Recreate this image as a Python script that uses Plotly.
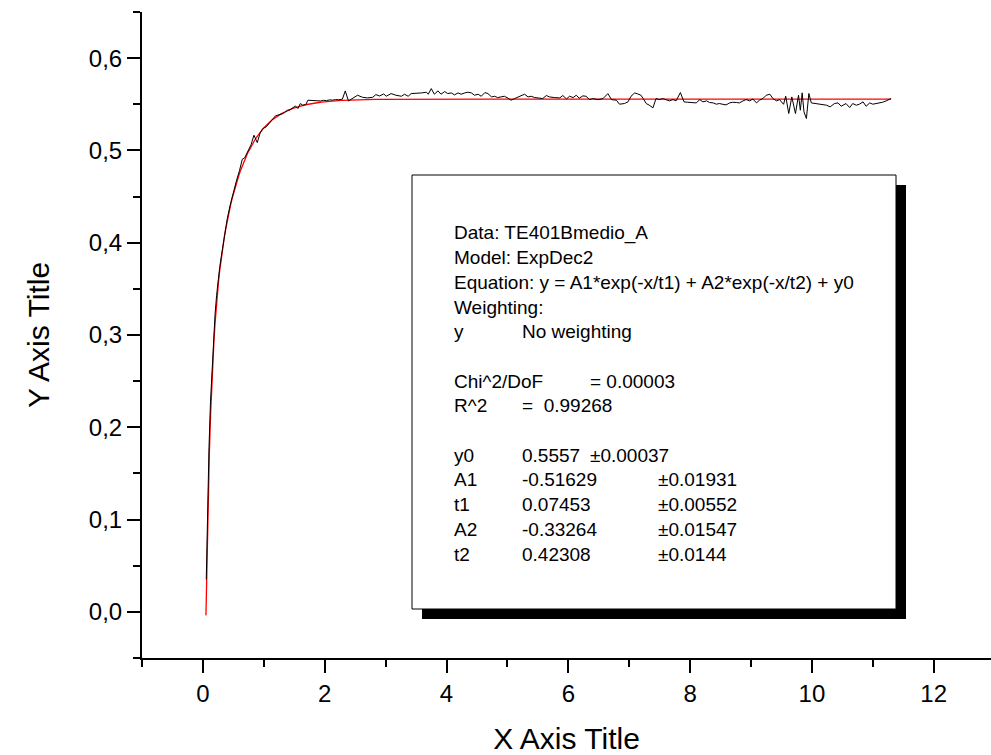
import numpy as np
import plotly.graph_objects as go

# Measured signal (TE401Bmedio_A)
time_s = [
    0.055, 0.075, 0.100, 0.125, 0.150, 0.175, 0.200, 0.225, 0.250, 0.275,
    0.300, 0.350, 0.400, 0.445, 0.500, 0.550, 0.600, 0.647, 0.685, 0.740,
    0.790, 0.838, 0.893, 0.940, 0.985, 1.040, 1.095, 1.140, 1.190, 1.260,
    1.300, 1.340, 1.390, 1.430, 1.480, 1.520, 1.560, 1.600, 1.640, 1.690,
    1.724, 1.780, 1.830, 1.880, 1.930, 1.980, 2.030, 2.080, 2.130, 2.180,
    2.230, 2.290, 2.338, 2.390, 2.460, 2.540, 2.620, 2.700, 2.790, 2.840,
    2.900, 2.970, 3.010, 3.090, 3.17, 3.26, 3.31, 3.37, 3.42, 3.50,
    3.59, 3.67, 3.70, 3.75, 3.80, 3.86, 3.91, 3.97, 4.02, 4.08,
    4.13, 4.19, 4.24, 4.30, 4.35, 4.41, 4.46, 4.52, 4.57, 4.63,
    4.68, 4.74, 4.79, 4.84, 4.90, 4.95, 5.01, 5.06, 5.12, 5.20,
    5.28, 5.34, 5.39, 5.45, 5.53, 5.58, 5.64, 5.69, 5.77, 5.86,
    5.91, 5.97, 6.02, 6.08, 6.13, 6.18, 6.24, 6.29, 6.35, 6.40,
    6.49, 6.57, 6.65, 6.71, 6.79, 6.84, 6.92, 6.98, 7.03, 7.09,
    7.14, 7.19, 7.23, 7.28, 7.33, 7.39, 7.44, 7.50, 7.55, 7.61,
    7.66, 7.72, 7.77, 7.84, 7.90, 7.96, 8.05, 8.10, 8.16, 8.21,
    8.27, 8.32, 8.38, 8.43, 8.48, 8.54, 8.59, 8.65, 8.70, 8.76,
    8.81, 8.87, 8.92, 8.98, 9.03, 9.09, 9.14, 9.20, 9.25, 9.31,
    9.36, 9.42, 9.47, 9.50, 9.535, 9.57, 9.62, 9.67, 9.73, 9.78,
    9.81, 9.84, 9.87, 9.91, 9.95, 9.99, 10.07, 10.15, 10.24, 10.30,
    10.37, 10.43, 10.48, 10.56, 10.62, 10.67, 10.73, 10.78, 10.84, 10.89,
    10.95, 11.00, 11.06, 11.11, 11.16, 11.22, 11.30,
]
signal = [
    0.035, 0.105, 0.178, 0.228, 0.266, 0.298, 0.323, 0.343, 0.360, 0.373,
    0.384, 0.408, 0.426, 0.440, 0.455, 0.467, 0.478, 0.4905, 0.4919, 0.499,
    0.506, 0.5165, 0.5085, 0.519, 0.5237, 0.5255, 0.5300, 0.5330, 0.5374, 0.5389,
    0.5395, 0.5410, 0.5436, 0.5440, 0.5460, 0.5482, 0.5454, 0.5508, 0.5490, 0.5497,
    0.5544, 0.5542, 0.5538, 0.5541, 0.5536, 0.5543, 0.5540, 0.5548, 0.5545, 0.5551,
    0.5549, 0.5555, 0.5645, 0.5536, 0.5569, 0.5598, 0.5576, 0.5569, 0.5576, 0.5605,
    0.5590, 0.5612, 0.5587, 0.5616, 0.5598, 0.5587, 0.5609, 0.5587, 0.5616, 0.5616,
    0.5623, 0.5631, 0.5609, 0.5670, 0.5609, 0.5645, 0.5609, 0.5638, 0.5616, 0.5623,
    0.5602, 0.5623, 0.5609, 0.5623, 0.5631, 0.5623, 0.5598, 0.5609, 0.5587, 0.5627,
    0.5616, 0.5580, 0.5587, 0.5573, 0.5580, 0.5587, 0.5566, 0.5544, 0.5562, 0.5587,
    0.5609, 0.5580, 0.5587, 0.5573, 0.5566, 0.5562, 0.5595, 0.5580, 0.5573, 0.5569,
    0.5595, 0.5558, 0.5587, 0.5573, 0.5598, 0.5566, 0.5591, 0.5587, 0.5551, 0.5562,
    0.5551, 0.5562, 0.5616, 0.5551, 0.5544, 0.5501, 0.5508, 0.5526, 0.5587, 0.5623,
    0.5612, 0.5600, 0.5562, 0.5508, 0.5490, 0.5461, 0.5562, 0.5551, 0.5562, 0.5544,
    0.5537, 0.5551, 0.5537, 0.5627, 0.5526, 0.5522, 0.5519, 0.5515, 0.5551, 0.5526,
    0.5537, 0.5519, 0.5515, 0.5501, 0.5508, 0.5501, 0.5493, 0.5515, 0.5522, 0.5519,
    0.5515, 0.5537, 0.5551, 0.5537, 0.5558, 0.5515, 0.5544, 0.5565, 0.5598, 0.5609,
    0.5562, 0.5537, 0.5551, 0.5526, 0.5500, 0.5588, 0.5400, 0.5580, 0.5400, 0.5598,
    0.5436, 0.5624, 0.5418, 0.5346, 0.5617, 0.5515, 0.5508, 0.5500, 0.5490, 0.5472,
    0.5508, 0.5515, 0.5479, 0.5508, 0.5465, 0.5508, 0.5490, 0.5501, 0.5526, 0.5479,
    0.5515, 0.5501, 0.5508, 0.5515, 0.5522, 0.5537, 0.5562,
]

# ExpDec2 fit parameters (value, error)
param_names = ["y0", "A1", "t1", "A2", "t2"]
param_values = [0.5557, -0.51629, 0.07453, -0.33264, 0.42308]
param_errors = ["0.00037", "0.01931", "0.00552", "0.01547", "0.0144"]
value_labels = ["0.5557", "-0.51629", "0.07453", "-0.33264", "0.42308"]
chi2_dof = "0.00003"
r_squared = "0.99268"
fit_range = [0.05, 11.3]

y0, A1, t1, A2, t2 = param_values
x_fit = np.linspace(fit_range[0], fit_range[1], 600)
y_fit = A1 * np.exp(-x_fit / t1) + A2 * np.exp(-x_fit / t2) + y0

FONT = "Liberation Sans, Arial, Helvetica, sans-serif"

fig = go.Figure()
fig.add_trace(go.Scatter(x=x_fit, y=y_fit, mode="lines",
                         line=dict(color="#ff0000", width=1.3), hoverinfo="skip"))
fig.add_trace(go.Scatter(x=time_s, y=signal, mode="lines",
                         line=dict(color="black", width=1)))

# plot-area geometry in pixels
W, H = 991, 755
L, R, T, B = 142, 991, 12, 658


def fx(px):
    return (px - L) / (R - L)


def fy(py):
    return (B - py) / (B - T)


shapes = [
    dict(type="rect", xref="paper", yref="paper", layer="above",
         x0=fx(422), x1=fx(906), y0=fy(619), y1=fy(185),
         fillcolor="black", line=dict(width=0)),
    dict(type="rect", xref="paper", yref="paper", layer="above",
         x0=fx(412), x1=fx(896), y0=fy(609), y1=fy(175),
         fillcolor="white", line=dict(color="black", width=1)),
]

LINE0, STEP = 233, 24.7
COL1, COL2, COL3, COLEQ = 452, 520, 656, 588
annotations = []


def text_at(px, row, s):
    annotations.append(dict(
        x=fx(px), y=fy(LINE0 + STEP * row), xref="paper", yref="paper",
        text=s, showarrow=False, xanchor="left", yanchor="middle",
        font=dict(family=FONT, size=19, color="black")))


text_at(COL1, 0, "Data: TE401Bmedio_A")
text_at(COL1, 1, "Model: ExpDec2")
text_at(COL1, 2, "Equation: y = A1*exp(-x/t1) + A2*exp(-x/t2) + y0")
text_at(COL1, 3, "Weighting:")
text_at(COL1, 4, "y")
text_at(COL2, 4, "No weighting")
text_at(COL1, 6, "Chi^2/DoF")
text_at(COLEQ, 6, "= " + chi2_dof)
text_at(COL1, 7, "R^2")
text_at(COL2, 7, "=  " + r_squared)
for i, name in enumerate(param_names):
    row = 9 + i
    text_at(COL1, row, name)
    text_at(COL2, row, value_labels[i])
    text_at(COLEQ if i == 0 else COL3, row, "\u00b1" + param_errors[i])

axis_common = dict(
    showline=True, linecolor="black", linewidth=2,
    ticks="outside", ticklen=13, tickwidth=2, tickcolor="black",
    showgrid=False, zeroline=False,
    tickfont=dict(family=FONT, size=24, color="black"),
)

fig.update_layout(
    width=W, height=H,
    margin=dict(l=L, r=W - R, t=T, b=H - B, pad=0),
    paper_bgcolor="white", plot_bgcolor="white",
    showlegend=False,
    separators=",.",
    shapes=shapes,
    annotations=annotations,
    xaxis=dict(
        range=[-1, -1 + (R - L) / 60.9], tick0=0, dtick=2, tickformat="d",
        minor=dict(dtick=1, ticks="outside", ticklen=7, tickwidth=2, tickcolor="black"),
        title=dict(text="X Axis Title", font=dict(family=FONT, size=30, color="black"),
                   standoff=24),
        **axis_common,
    ),
    yaxis=dict(
        range=[-0.05, 0.65], tick0=0, dtick=0.1, tickformat=".1f",
        minor=dict(dtick=0.05, ticks="outside", ticklen=7, tickwidth=2, tickcolor="black"),
        title=dict(text="Y Axis Title", font=dict(family=FONT, size=30, color="black"),
                   standoff=30),
        **axis_common,
    ),
)

fig.write_html("out.html")
